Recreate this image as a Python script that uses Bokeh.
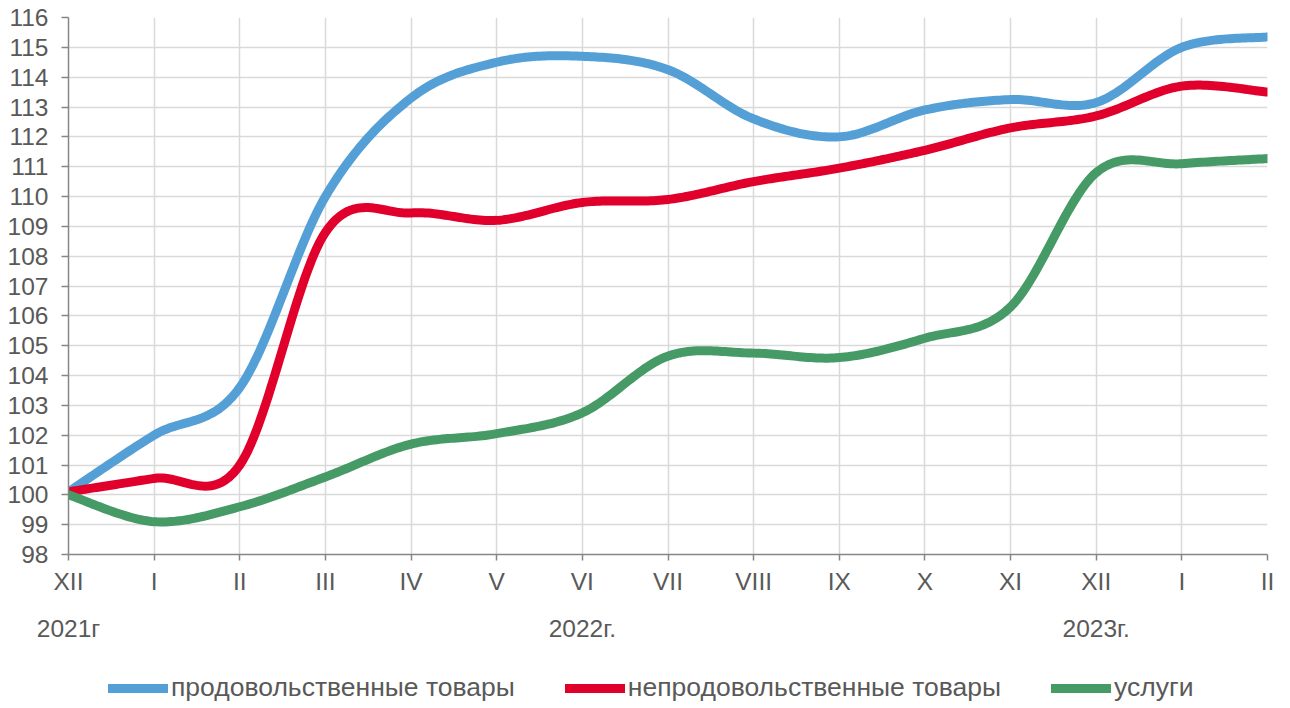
import numpy as np
from bokeh.plotting import figure
from bokeh.layouts import column
from bokeh.models import FixedTicker, LinearAxis, Legend, LegendItem, Range1d
from bokeh.embed import file_html
from bokeh.resources import INLINE

# ---- data ----
months = ["XII", "I", "II", "III", "IV", "V", "VI", "VII", "VIII", "IX", "X", "XI", "XII", "I", "II"]
year_pos = [0, 6, 12]
year_labels = ["2021г", "2022г.", "2023г."]
food = [100.1, 102.0, 103.6, 110.0, 113.3, 114.5, 114.7, 114.25, 112.6, 112.0, 112.9, 113.25, 113.15, 115.0, 115.35]
nonfood = [100.1, 100.55, 101.0, 108.8, 109.45, 109.2, 109.8, 109.9, 110.5, 110.95, 111.55, 112.3, 112.7, 113.7, 113.5]
services = [100.0, 99.1, 99.6, 100.6, 101.7, 102.05, 102.75, 104.65, 104.75, 104.6, 105.25, 106.3, 110.8, 111.1, 111.27]
series_names = ["продовольственные товары", "непродовольственные товары", "услуги"]
colors = ["#559FD7", "#E0002B", "#459A66"]

FONT = "Liberation Sans"
TXT = "#595959"


def smooth(vals, n=30):
    """Excel-like smoothed line: Bezier segments with Catmull-Rom control points."""
    x = np.arange(len(vals), dtype=float)
    y = np.asarray(vals, dtype=float)
    px = np.concatenate([[x[0]], x, [x[-1]]])
    py = np.concatenate([[y[0]], y, [y[-1]]])
    xs, ys = [], []
    t = np.linspace(0, 1, n, endpoint=False)
    for i in range(len(x) - 1):
        p0 = np.array([px[i], py[i]])
        p1 = np.array([px[i + 1], py[i + 1]])
        p2 = np.array([px[i + 2], py[i + 2]])
        p3 = np.array([px[i + 3], py[i + 3]])
        c1 = p1 + (p2 - p0) / 6.0
        c2 = p2 - (p3 - p1) / 6.0
        b = ((1 - t) ** 3)[:, None] * p1 + (3 * (1 - t) ** 2 * t)[:, None] * c1 \
            + (3 * (1 - t) * t ** 2)[:, None] * c2 + (t ** 3)[:, None] * p2
        xs.extend(b[:, 0]); ys.extend(b[:, 1])
    xs.append(x[-1]); ys.append(y[-1])
    return xs, ys


p = figure(frame_width=1199, frame_height=537, output_backend="svg", toolbar_location=None,
           x_range=Range1d(0, 14), y_range=Range1d(98, 116),
           min_border_left=68, min_border_top=17, min_border_right=21, min_border_bottom=100)
p.outline_line_color = None
p.background_fill_color = "white"

# grids
p.xgrid.ticker = FixedTicker(ticks=list(range(15)))
p.ygrid.ticker = FixedTicker(ticks=list(range(98, 117)))
for g in (p.xgrid, p.ygrid):
    g.grid_line_color = "#D9D9D9"
    g.grid_line_width = 1.5

# x axis
xa = p.xaxis[0]
xa.ticker = FixedTicker(ticks=list(range(15)))
xa.major_label_overrides = {i: m for i, m in enumerate(months)}
xa.axis_line_color = "#868686"
xa.axis_line_width = 1.5
xa.major_tick_line_color = "#868686"
xa.major_tick_line_width = 1.5
xa.major_tick_out = 6
xa.major_tick_in = 0
xa.minor_tick_line_color = None
xa.major_label_standoff = 7
xa.major_label_text_font = FONT
xa.major_label_text_font_size = "24.5px"
xa.major_label_text_color = TXT

# y axis
ya = p.yaxis[0]
ya.ticker = FixedTicker(ticks=list(range(98, 117)))
ya.axis_line_color = "#868686"
ya.axis_line_width = 1.5
ya.major_tick_line_color = "#868686"
ya.major_tick_line_width = 1.5
ya.major_tick_out = 7
ya.major_tick_in = 0
ya.minor_tick_line_color = None
ya.major_label_standoff = 13
ya.major_label_text_font = FONT
ya.major_label_text_font_size = "24.5px"
ya.major_label_text_color = TXT

# year labels as a second category axis
yr = LinearAxis(ticker=FixedTicker(ticks=year_pos),
                major_label_overrides={pos: lab for pos, lab in zip(year_pos, year_labels)})
yr.axis_line_color = None
yr.major_tick_line_color = None
yr.minor_tick_line_color = None
yr.major_label_standoff = 11
yr.major_label_text_font = FONT
yr.major_label_text_font_size = "24.5px"
yr.major_label_text_color = TXT
p.add_layout(yr, "below")

for name, vals, col in zip(series_names, [food, nonfood, services], colors):
    xs, ys = smooth(vals)
    p.line(xs, ys, line_color=col, line_width=9, line_cap="round", line_join="round")

# legend strip below the chart (its renderers sit outside the visible range)
lg = figure(width=1288, height=54, output_backend="svg", toolbar_location=None,
            x_range=Range1d(0, 1), y_range=Range1d(0, 1),
            x_axis_location=None, y_axis_location=None,
            min_border_left=0, min_border_right=0, min_border_top=0, min_border_bottom=0)
lg.outline_line_color = None
lg.grid.visible = False
items = []
for name, col in zip(series_names, colors):
    r = lg.line(x=[5, 6], y=[5, 6], line_color=col, line_width=9, line_cap="round")
    items.append(LegendItem(label=name, renderers=[r]))

legend = Legend(items=items, orientation="horizontal", location=(40, 5),
                glyph_width=60, glyph_height=20, label_standoff=3, spacing=50,
                label_text_font=FONT, label_text_font_size="26.5px", label_text_color=TXT,
                border_line_color=None, background_fill_alpha=0, padding=0, margin=0)
lg.add_layout(legend, "center")

layout = column(p, lg, spacing=0)
open("out.html", "w").write(file_html(layout, INLINE))
